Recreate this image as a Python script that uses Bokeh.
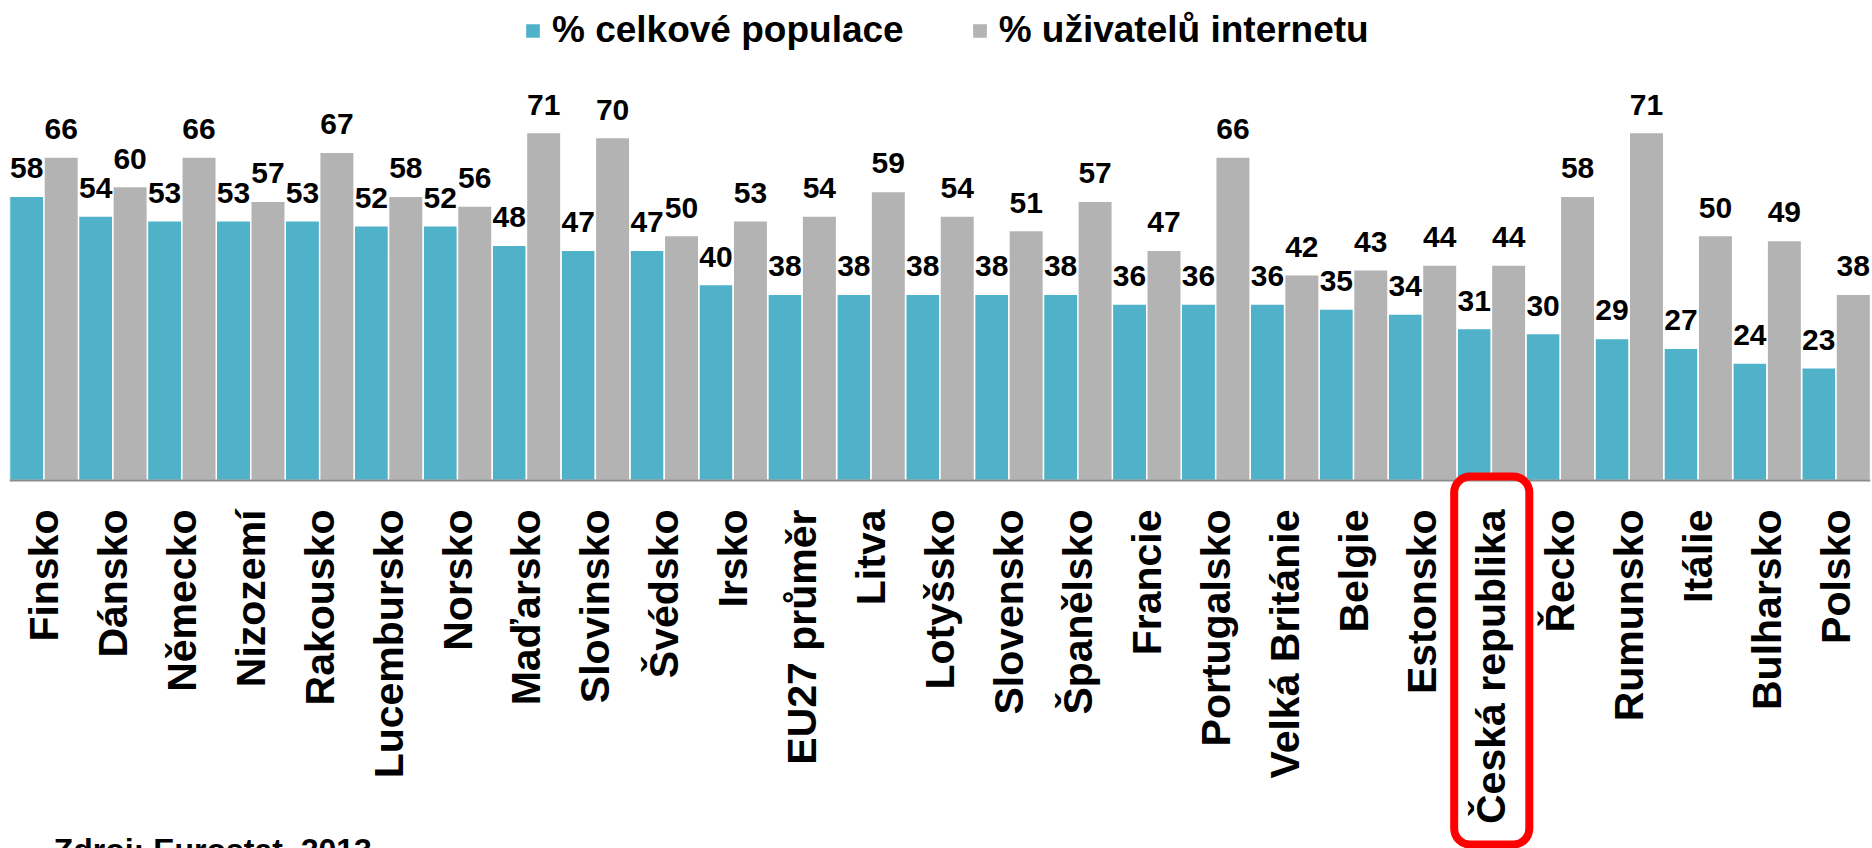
import math
from bokeh.plotting import figure
from bokeh.models import (ColumnDataSource, FactorRange, Range1d, LabelSet, Label,
                          Legend, LegendItem, BoxAnnotation)
from bokeh.transform import dodge
from bokeh.core.properties import value
from bokeh.embed import file_html
from bokeh.resources import INLINE

countries = ["Finsko", "Dánsko", "Německo", "Nizozemí", "Rakousko", "Lucembursko",
             "Norsko", "Maďarsko", "Slovinsko", "Švédsko", "Irsko", "EU27 průměr",
             "Litva", "Lotyšsko", "Slovensko", "Španělsko", "Francie", "Portugalsko",
             "Velká Británie", "Belgie", "Estonsko", "Česká republika", "Řecko",
             "Rumunsko", "Itálie", "Bulharsko", "Polsko"]
pct_population = [58, 54, 53, 53, 53, 52, 52, 48, 47, 47, 40, 38, 38, 38, 38, 38,
                  36, 36, 36, 35, 34, 31, 30, 29, 27, 24, 23]
pct_internet_users = [66, 60, 66, 57, 67, 58, 56, 71, 70, 50, 53, 54, 59, 54, 51, 57,
                      47, 66, 42, 43, 44, 44, 58, 71, 50, 49, 38]
series_names = ["% celkové populace", "% uživatelů internetu"]
highlight = "Česká republika"
source_note = "Zdroj: Eurostat, 2013"

TEAL = "#4FB2C8"
GRAY = "#B3B3B3"
FONT = "Liberation Sans"

src = ColumnDataSource(dict(
    country=countries,
    pop=pct_population,
    net=pct_internet_users,
    pop_txt=[str(v) for v in pct_population],
    net_txt=[str(v) for v in pct_internet_users],
))

W, H = 1872, 848
PX_PER_UNIT = 4.9
BASE_Y = 480  # canvas pixel row of the zero line
p = figure(width=W, height=H, output_backend="svg", toolbar_location=None,
           x_range=FactorRange(*countries, range_padding=0),
           y_range=Range1d(-(H - BASE_Y) / PX_PER_UNIT, BASE_Y / PX_PER_UNIT),
           min_border_left=9, min_border_right=2, min_border_top=0,
           min_border_bottom=0)
p.outline_line_color = None
p.xgrid.visible = False
p.ygrid.visible = False
p.yaxis.visible = False

r1 = p.vbar(x=dodge("country", -0.25, range=p.x_range), top="pop", bottom=0, width=0.5,
            source=src, fill_color=TEAL, line_color="white", line_width=1.5)
r2 = p.vbar(x=dodge("country", 0.25, range=p.x_range), top="net", bottom=0, width=0.5,
            source=src, fill_color=GRAY, line_color="white", line_width=1.5)

for col, off, ycol in (("pop_txt", -0.25, "pop"), ("net_txt", 0.25, "net")):
    p.add_layout(LabelSet(x=dodge("country", off, range=p.x_range), y=ycol, text=col,
                          source=src, y_offset=18, text_align="center",
                          text_baseline="alphabetic", text_font=value(FONT),
                          text_font_style="bold", text_font_size="30px",
                          text_color="black"))

ax = p.xaxis[0]
ax.fixed_location = 0
ax.axis_line_color = "#8C8C8C"
ax.axis_line_width = 2
ax.major_tick_line_color = None
ax.minor_tick_line_color = None
ax.major_label_orientation = math.pi / 2
ax.major_label_standoff = 23
ax.major_label_text_font = FONT
ax.major_label_text_font_style = "bold"
ax.major_label_text_font_size = "41px"
ax.major_label_text_color = "black"

legend = Legend(items=[LegendItem(label=series_names[0], renderers=[r1]),
                       LegendItem(label=series_names[1], renderers=[r2])],
                orientation="horizontal", location=(514, H - 51),
                label_text_font=FONT, label_text_font_style="bold",
                label_text_font_size="37px", label_text_color="black",
                glyph_width=19, glyph_height=19, label_standoff=10, spacing=66,
                padding=0, margin=0, border_line_alpha=0, background_fill_alpha=0)
p.add_layout(legend)

idx = countries.index(highlight)
p.add_layout(BoxAnnotation(left=idx - 0.04, right=idx + 1.05, top=0.8, bottom=-74.3,
                           fill_alpha=0, line_color="#FF0000", line_alpha=1.0,
                           line_width=8, border_radius=16))

p.add_layout(Label(x=0.64, y=-75.5, text=source_note, text_font=FONT,
                   text_font_style="bold", text_font_size="32px",
                   text_baseline="alphabetic", text_color="black"))

open("out.html", "w").write(file_html(p, INLINE))
